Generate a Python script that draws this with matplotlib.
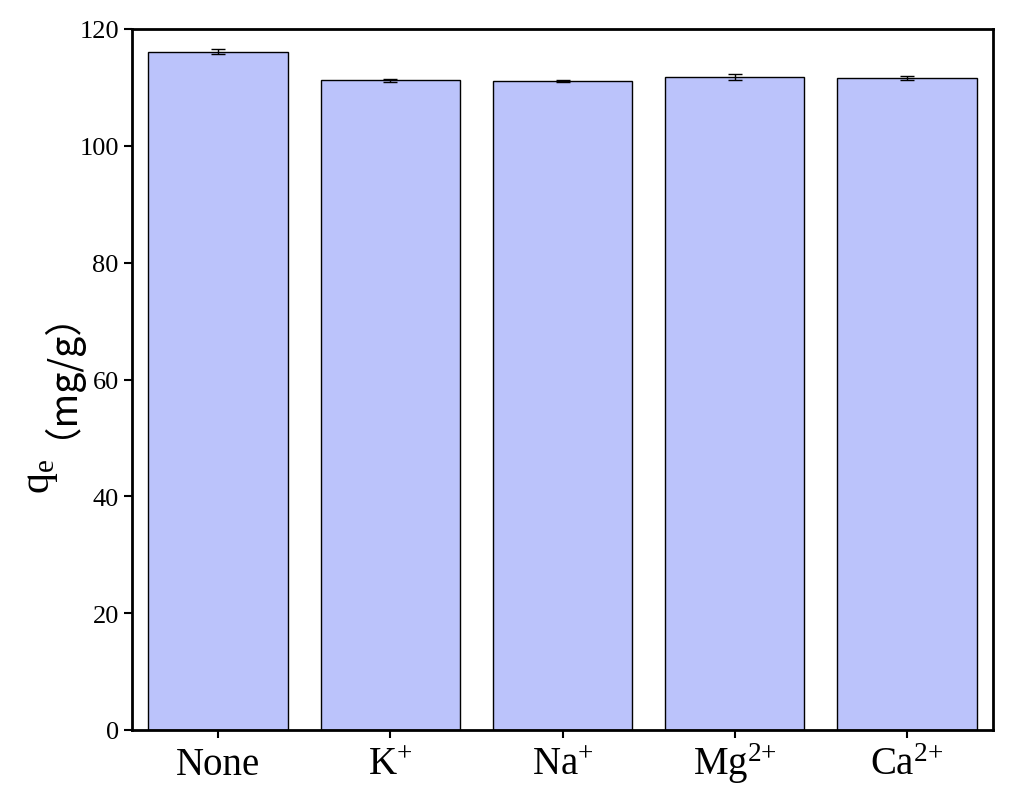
import matplotlib.pyplot as plt

categories = ["None", "K$^{{+}}$", "Na$^{{+}}$", "Mg$^{2{+}}$", "Ca$^{2{+}}$"]
qe_values = [116.1, 111.2, 111.1, 111.8, 111.6]
qe_errors = [0.45, 0.25, 0.2, 0.5, 0.4]

plt.rcParams["font.family"] = ["Liberation Serif", "Noto Sans CJK SC"]
plt.rcParams["mathtext.fontset"] = "custom"
plt.rcParams["mathtext.rm"] = "Liberation Serif"
plt.rcParams["mathtext.it"] = "Liberation Serif"

fig = plt.figure(figsize=(10.1, 8.03), dpi=100)
ax = fig.add_axes([132 / 1010, 72 / 803, 861 / 1010, 701 / 803])

x = list(range(len(categories)))
ax.bar(x, qe_values, width=0.81, color="#bbc3fb", edgecolor="black", linewidth=1,
       yerr=qe_errors, capsize=5, error_kw={"elinewidth": 1, "capthick": 1})

ax.set_xlim(-0.5, 4.5)
ax.set_ylim(0, 120)
ax.set_yticks(range(0, 121, 20))
ax.set_xticks(x)
ax.set_xticklabels([])
ax.tick_params(axis="y", labelsize=19, direction="out", length=6, width=1.5)
ax.tick_params(axis="x", direction="out", length=6, width=1.5)
for s in ax.spines.values():
    s.set_linewidth(2)

# x labels on a common baseline
for xi, lab in zip(x, categories):
    ax.text(xi, -0.063, lab, transform=ax.get_xaxis_transform(), fontsize=28,
            ha="center", va="baseline")

# y label in two pieces: mathtext subscript plus full-width parentheses
fig.text(0.04, 0.385, "q$_\\mathrm{e}$", rotation=90, fontsize=30, va="bottom", ha="center")
fig.text(0.04, 0.455, "（mg/g）", rotation=90, fontsize=27, va="bottom", ha="center",
         family=["Noto Sans CJK SC", "Liberation Serif"])

fig.savefig("out.png", dpi=100)
